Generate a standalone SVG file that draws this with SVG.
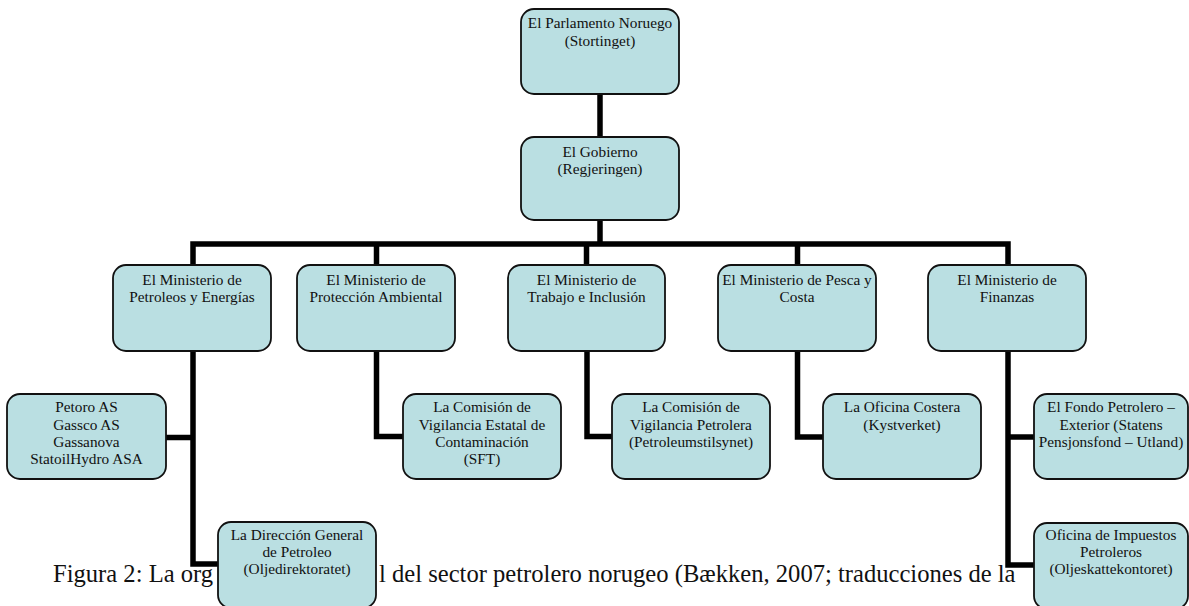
<svg xmlns="http://www.w3.org/2000/svg" width="1189" height="606" viewBox="0 0 1189 606">
<style>
.box{fill:#badfe2;stroke:#111;stroke-width:1.8}
.t{font-family:"Liberation Serif","Times New Roman",serif;font-size:15.3px;fill:#111;text-anchor:middle}
.cap{font-family:"Liberation Serif","Times New Roman",serif;font-size:24.6px;fill:#111}
.c{fill:none;stroke:#000;stroke-width:5.5;stroke-linejoin:miter;stroke-linecap:butt}
</style>
<rect width="1189" height="606" fill="#fff"/>
<g id="caption">
<text class="cap" x="53" y="582">Figura 2: La org</text>
<text class="cap" x="379" y="582">l del sector petrolero norugeo (Bækken, 2007; traducciones de la</text>
</g>
<g id="connectors">
<path class="c" d="M600 94 V137"/>
<path class="c" d="M600 220 V244"/>
<path class="c" d="M193 265 V244 H1008 V265"/>
<path class="c" d="M376.5 244 V265"/>
<path class="c" d="M586.5 244 V265"/>
<path class="c" d="M797.5 244 V265"/>
<path class="c" d="M193 351 V564 H218"/>
<path class="c" d="M166 437.5 H193"/>
<path class="c" d="M376.5 351 V436.5 H403"/>
<path class="c" d="M587 351 V436.5 H612"/>
<path class="c" d="M797.5 351 V437 H823"/>
<path class="c" d="M1008 351 V565 H1034"/>
<path class="c" d="M1008 437 H1034"/>
</g>
<g id="parlamento">
<rect class="box" x="521" y="9" width="158" height="85" rx="13"/>
<text class="t" x="600" y="28">El Parlamento Noruego</text>
<text class="t" x="600" y="45.5">(Stortinget)</text>
</g>
<g id="gobierno">
<rect class="box" x="521" y="137" width="158" height="83" rx="13"/>
<text class="t" x="600" y="157">El Gobierno</text>
<text class="t" x="600" y="174">(Regjeringen)</text>
</g>
<g id="min-petroleo">
<rect class="box" x="113" y="265" width="158" height="86" rx="13"/>
<text class="t" x="192" y="285">El Ministerio de</text>
<text class="t" x="192" y="302">Petroleos y Energías</text>
</g>
<g id="min-ambiental">
<rect class="box" x="297" y="265" width="158" height="86" rx="13"/>
<text class="t" x="376" y="285">El Ministerio de</text>
<text class="t" x="376" y="302">Protección Ambiental</text>
</g>
<g id="min-trabajo">
<rect class="box" x="508" y="265" width="157" height="86" rx="13"/>
<text class="t" x="586.5" y="285">El Ministerio de</text>
<text class="t" x="586.5" y="302">Trabajo e Inclusión</text>
</g>
<g id="min-pesca">
<rect class="box" x="718" y="265" width="158" height="86" rx="13"/>
<text class="t" x="797" y="285">El Ministerio de Pesca y</text>
<text class="t" x="797" y="302">Costa</text>
</g>
<g id="min-finanzas">
<rect class="box" x="928" y="265" width="158" height="86" rx="13"/>
<text class="t" x="1007" y="285">El Ministerio de</text>
<text class="t" x="1007" y="302">Finanzas</text>
</g>
<g id="empresas">
<rect class="box" x="7" y="394" width="159" height="85" rx="13"/>
<text class="t" x="86.5" y="412.3">Petoro AS</text>
<text class="t" x="86.5" y="429.5">Gassco AS</text>
<text class="t" x="86.5" y="446.7">Gassanova</text>
<text class="t" x="86.5" y="464">StatoilHydro ASA</text>
</g>
<g id="direccion">
<rect class="box" x="218" y="522" width="158" height="86" rx="13"/>
<text class="t" x="297" y="540">La Dirección General</text>
<text class="t" x="297" y="557">de Petroleo</text>
<text class="t" x="297" y="574">(Oljedirektoratet)</text>
</g>
<g id="sft">
<rect class="box" x="403" y="394" width="158" height="85" rx="13"/>
<text class="t" x="482" y="412.3">La Comisión de</text>
<text class="t" x="482" y="429.5">Vigilancia Estatal de</text>
<text class="t" x="482" y="446.7">Contaminación</text>
<text class="t" x="482" y="464">(SFT)</text>
</g>
<g id="ptil">
<rect class="box" x="612" y="394" width="158" height="85" rx="13"/>
<text class="t" x="691" y="412.3">La Comisión de</text>
<text class="t" x="691" y="429.5">Vigilancia Petrolera</text>
<text class="t" x="691" y="446.7">(Petroleumstilsynet)</text>
</g>
<g id="kystverket">
<rect class="box" x="823" y="394" width="158" height="85" rx="13"/>
<text class="t" x="902" y="412.3">La Oficina Costera</text>
<text class="t" x="902" y="429.5">(Kystverket)</text>
</g>
<g id="fondo">
<rect class="box" x="1034" y="394" width="154" height="85" rx="13"/>
<text class="t" x="1111" y="412.3">El Fondo Petrolero –</text>
<text class="t" x="1111" y="429.5">Exterior (Statens</text>
<text class="t" x="1111" y="446.7">Pensjonsfond – Utland)</text>
</g>
<g id="oljeskatt">
<rect class="box" x="1034" y="523" width="154" height="86" rx="13"/>
<text class="t" x="1111" y="540">Oficina de Impuestos</text>
<text class="t" x="1111" y="557">Petroleros</text>
<text class="t" x="1111" y="574">(Oljeskattekontoret)</text>
</g>
</svg>
